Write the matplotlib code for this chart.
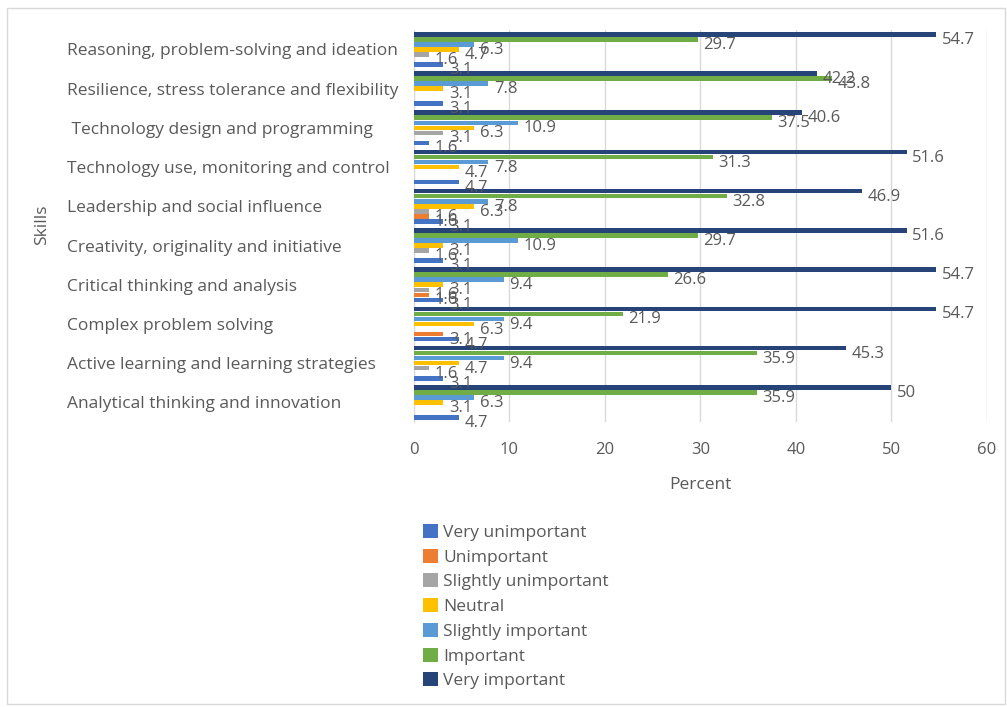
import matplotlib.pyplot as plt
import numpy as np
from matplotlib.patches import Rectangle

plt.rcParams['font.family'] = ['Open Sans', 'DejaVu Sans']

skills = [
    "Analytical thinking and innovation",
    "Active learning and learning strategies",
    "Complex problem solving",
    "Critical thinking and analysis",
    "Creativity, originality and initiative",
    "Leadership and social influence",
    "Technology use, monitoring and control",
    " Technology design and programming",
    "Resilience, stress tolerance and flexibility",
    "Reasoning, problem-solving and ideation",
]

series_names = ["Very unimportant", "Unimportant", "Slightly unimportant", "Neutral",
                "Slightly important", "Important", "Very important"]

very_unimportant = [4.7, 3.1, 4.7, 3.1, 3.1, 3.1, 4.7, 1.6, 3.1, 3.1]
unimportant = [0, 0, 3.1, 1.6, 0, 1.6, 0, 0, 0, 0]
slightly_unimportant = [0, 1.6, 0, 1.6, 1.6, 1.6, 0, 3.1, 0, 1.6]
neutral = [3.1, 4.7, 6.3, 3.1, 3.1, 6.3, 4.7, 6.3, 3.1, 4.7]
slightly_important = [6.3, 9.4, 9.4, 9.4, 10.9, 7.8, 7.8, 10.9, 7.8, 6.3]
important = [35.9, 35.9, 21.9, 26.6, 29.7, 32.8, 31.3, 37.5, 43.8, 29.7]
very_important = [50, 45.3, 54.7, 54.7, 51.6, 46.9, 51.6, 40.6, 42.2, 54.7]

series = [very_unimportant, unimportant, slightly_unimportant, neutral,
          slightly_important, important, very_important]
colors = ["#4472C4", "#ED7D31", "#A5A5A5", "#FFC000", "#5B9BD5", "#70AD47", "#264478"]

fig = plt.figure(figsize=(10.07, 7.07), dpi=100)
fig.patches.append(Rectangle((0.007, 0.004), 0.991, 0.985, transform=fig.transFigure,
                             fill=False, edgecolor="#D9D9D9", linewidth=1))
ax = fig.add_axes([0.411, 0.403, 0.569, 0.555])

n = len(series)
slot = 0.128
bar_h = 0.115
y = np.arange(len(skills))
label_color = "#595959"
for i, (vals, name, col) in enumerate(zip(series, series_names, colors)):
    pos = y + (i - (n - 1) / 2) * slot
    ax.barh(pos, vals, height=bar_h, color=col, label=name, zorder=3)
    for p, v in zip(pos, vals):
        if v > 0:
            ax.annotate(f"{v:g}", (v, p), xytext=(4, -4), textcoords="offset points",
                        va="center", ha="left", fontsize=12, color=label_color, zorder=4)

ax.set_xlim(0, 60)
ax.set_ylim(-0.5, len(skills) - 0.5)
ax.set_xticks(np.arange(0, 61, 10))
ax.set_yticks(y)
ax.set_yticklabels(skills, fontsize=12.5, color=label_color)
for lbl in ax.get_yticklabels():
    lbl.set_horizontalalignment("left")
ax.tick_params(axis="x", labelsize=12, labelcolor=label_color, length=0, pad=14)
ax.tick_params(axis="y", length=0, pad=250)
ax.grid(axis="x", color="#D9D9D9", linewidth=1, zorder=0)
for s in ["top", "right", "bottom"]:
    ax.spines[s].set_visible(False)
ax.spines["left"].set_color("#D9D9D9")

ax.set_xlabel("Percent", fontsize=12.5, color=label_color, labelpad=14)
fig.text(0.042, 0.682, "Skills", rotation=90, fontsize=12.5, color=label_color,
         ha="center", va="center")

handles, labels = ax.get_legend_handles_labels()
fig.legend(handles, labels, loc="upper left", bbox_to_anchor=(0.405, 0.281),
           frameon=False, fontsize=12.5, labelcolor=label_color, handlelength=0.85,
           handleheight=0.85, handletextpad=0.3, labelspacing=0.45)

fig.savefig("out.png", dpi=100)
